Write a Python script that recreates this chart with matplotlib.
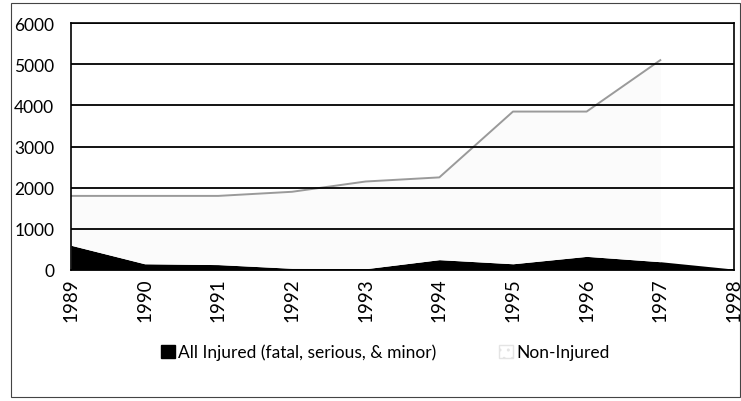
import numpy as np
import matplotlib
matplotlib.use('Agg')
import matplotlib.pyplot as plt
from matplotlib.patches import Patch, Rectangle

plt.rcParams['font.family'] = ['Lato', 'DejaVu Sans']

years = [1989, 1990, 1991, 1992, 1993, 1994, 1995, 1996, 1997, 1998]
injured = [600, 150, 130, 40, 30, 250, 150, 330, 200, 20]
# non-injured counts (stacked on top of injured); 1998 not shown
non_injured = [1200, 1650, 1670, 1860, 2120, 2000, 3700, 3520, 4900, np.nan]

injured = np.array(injured, dtype=float)
non_injured = np.array(non_injured, dtype=float)
total = injured + non_injured

fig = plt.figure(figsize=(7.41, 4.02), dpi=100)
ax = fig.add_axes([0.0958, 0.326, 0.8947, 0.614])

ax.fill_between(years, 0, injured, color='black', linewidth=0)
ax.fill_between(years, injured, total, color='#fbfbfb', linewidth=0)
ax.plot(years, total, color='#9a9a9a', linewidth=1.4)

ax.set_xlim(1989, 1998)
ax.set_ylim(0, 6000)
ax.set_yticks(range(0, 6001, 1000))
ax.set_xticks(years)
ax.set_xticklabels([str(y) for y in years], rotation=90)
ax.grid(axis='y', color='black', linewidth=1.3)
ax.set_axisbelow(False)
ax.tick_params(length=0)
ax.tick_params(axis='y', pad=12, labelsize=12.5)
ax.tick_params(axis='x', pad=5, labelsize=13.5)
for s in ax.spines.values():
    s.set_linewidth(1.2)
    s.set_color('black')

handles = [Patch(facecolor='black', edgecolor='black', label='All Injured (fatal, serious, & minor)'),
           Patch(facecolor='white', edgecolor='#e4e4e4', hatch='..', label='Non-Injured')]
fig.legend(handles=handles, loc='center', bbox_to_anchor=(0.52, 0.122), ncol=2,
           frameon=False, fontsize=12.5, columnspacing=3.6, handlelength=0.8,
           handleheight=0.8, handletextpad=0.2)

fig.patches.append(Rectangle((11 / 741, 4 / 402), 729 / 741, 394 / 402,
                             transform=fig.transFigure, fill=False,
                             edgecolor='#444444', linewidth=0.8))

fig.savefig('out.png', dpi=100)
